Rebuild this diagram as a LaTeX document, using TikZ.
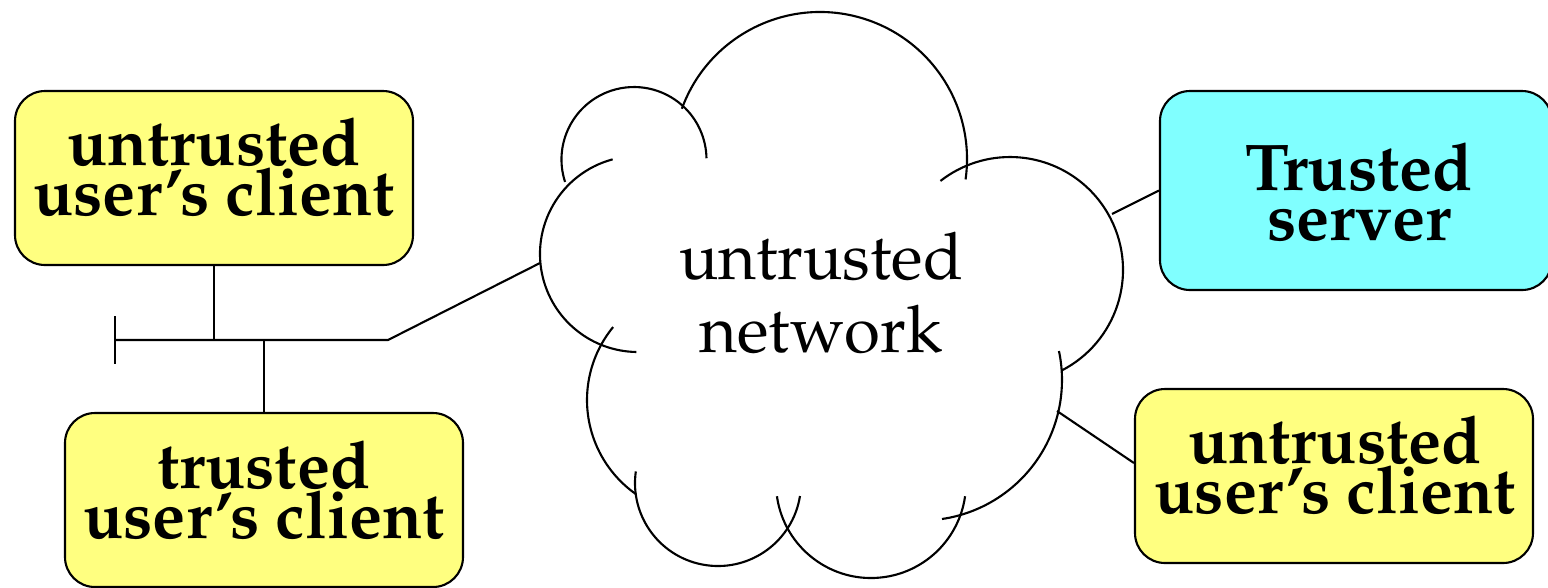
\documentclass[tikz,border=0pt]{standalone}
\usepackage[T1]{fontenc}
\usepackage{mathpazo}
\usetikzlibrary{calc}
\definecolor{clientyellow}{RGB}{255,255,128}
\definecolor{servercyan}{RGB}{128,255,255}
\tikzset{
  host/.style={draw, line width=0.6pt, rounded corners=3mm,
    minimum width=39.8mm, minimum height=17.4mm, inner sep=0pt},
  hostlabel/.style={inner sep=0pt, align=center,
    font=\fontsize{18.8}{14.2}\selectfont\bfseries},
  netlabel/.style={inner sep=0pt, align=center,
    font=\fontsize{18.6}{21}\selectfont},
  wire/.style={line width=0.6pt},
  puff/.style={line width=0.6pt},
}
% one circular arc of the cloud: centre x, centre y, radius, start angle, end angle
\newcommand\netarc[5]{\draw[puff] ($(#1,#2)+(#4:#3)$) arc[start angle=#4, end angle=#5, radius=#3];}
\begin{document}
\begin{tikzpicture}[x=0.1mm,y=0.1mm]
\path[use as bounding box] (0,0) rectangle (1548,-587);

% the untrusted network, drawn as overlapping arcs
\netarc{820}{-159}{147}{160}{-8}
\netarc{634}{-159.5}{72.5}{198}{1}
\netarc{638}{-254}{98}{105}{269}
\netarc{702}{-400}{115}{140.6}{235}
\netarc{718}{-483}{83}{172}{351}
\netarc{871}{-483}{95}{188}{352}
\netarc{921.5}{-380}{140.5}{-81.6}{11.9}
\netarc{1010}{-270}{113}{-63}{128}
\node[netlabel] (net) at (821,-293) {untrusted\\network};

% hosts
\node[host, fill=clientyellow] (uc1) at (214,-178) {};
\node[hostlabel] (uc1t) at (214,-167) {untrusted\\user's client};
\node[host, fill=clientyellow] (tc) at (264,-500) {};
\node[hostlabel] (tct) at (264,-490) {trusted\\user's client};
\node[host, fill=servercyan, minimum width=39.2mm, minimum height=19.9mm] (srv) at (1356,-190.5) {};
\node[hostlabel] (srvt) at (1359,-192) {Trusted\\server};
\node[host, fill=clientyellow] (uc2) at (1334,-476) {};
\node[hostlabel] (uc2t) at (1335,-465) {untrusted\\user's client};

% local bus and its attachment points on the cloud
\coordinate (busL) at (115,-340);
\coordinate (busR) at (388,-340);
\coordinate (cw) at (540,-263);
\coordinate (ce1) at (1112,-214);
\coordinate (ce2) at (1057,-411);

\draw[wire] (busL) -- (busR) -- (cw);
\draw[wire] ($(busL)+(0,24)$) -- ($(busL)+(0,-24)$);
\draw[wire] (uc1.south) -- (uc1.south |- busL);
\draw[wire] (tc.north) -- (tc.north |- busL);
\draw[wire] (ce1) -- (srv.west);
\draw[wire] (ce2) -- ($(uc2.west)+(0,13)$);
\end{tikzpicture}
\end{document}
